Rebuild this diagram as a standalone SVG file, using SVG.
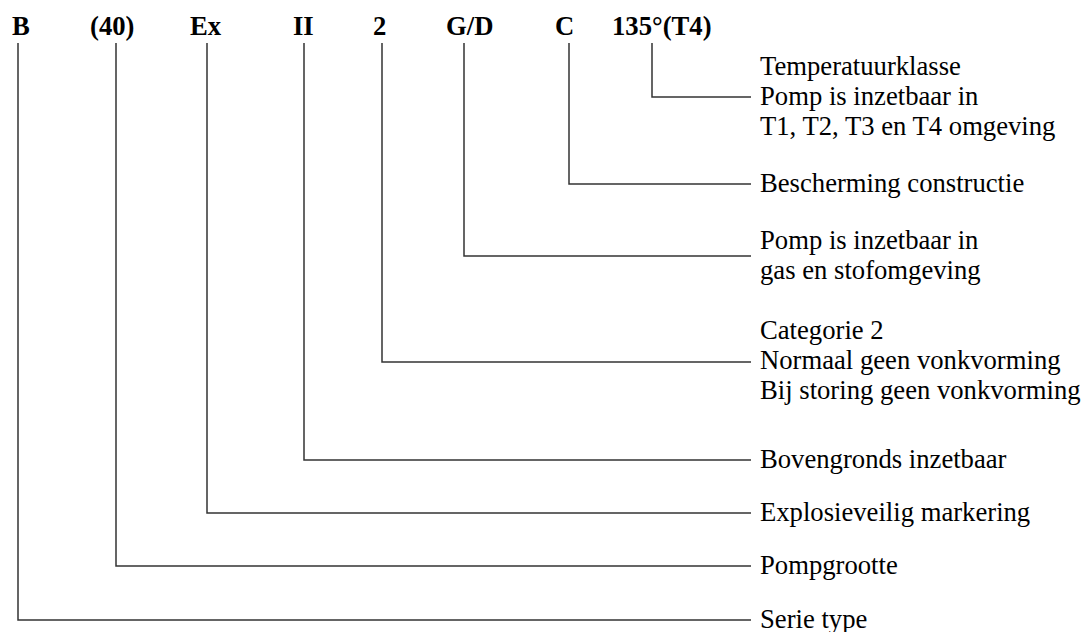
<svg xmlns="http://www.w3.org/2000/svg" width="1081" height="632" viewBox="0 0 1081 632">
<style>
.code{font-family:"Liberation Serif","Times New Roman",serif;font-weight:bold;font-size:26.67px;fill:#000}
.desc{font-family:"Liberation Serif","Times New Roman",serif;font-size:26.67px;fill:#000}
.conn{fill:none;stroke:#333;stroke-width:1.5}
</style>
<rect width="1081" height="632" fill="#fff"/>
<g id="codes">
<g id="code-B"><text class="code" x="12" y="35">B</text></g>
<g id="code-40"><text class="code" x="90" y="35">(40)</text></g>
<g id="code-Ex"><text class="code" x="190" y="35">Ex</text></g>
<g id="code-II"><text class="code" x="293" y="35">II</text></g>
<g id="code-2"><text class="code" x="373" y="35">2</text></g>
<g id="code-GD"><text class="code" x="446" y="35">G/D</text></g>
<g id="code-C"><text class="code" x="555" y="35">C</text></g>
<g id="code-T4"><text class="code" x="612" y="35">135°(T4)</text></g>
</g>
<g id="connectors">
<polyline class="conn" points="652,43 652,97 751,97"/>
<polyline class="conn" points="569,43 569,184 751,184"/>
<polyline class="conn" points="464,43 464,256 751,256"/>
<polyline class="conn" points="382,43 382,362 751,362"/>
<polyline class="conn" points="304,43 304,460 751,460"/>
<polyline class="conn" points="207,43 207,513 751,513"/>
<polyline class="conn" points="116,43 116,566 751,566"/>
<polyline class="conn" points="18,43 18,620 751,620"/>
</g>
<g id="desc-T4"><text class="desc" x="760" y="75">Temperatuurklasse</text><text class="desc" x="760" y="105">Pomp is inzetbaar in</text><text class="desc" x="760" y="135">T1, T2, T3 en T4 omgeving</text></g>
<g id="desc-C"><text class="desc" x="760" y="192">Bescherming constructie</text></g>
<g id="desc-GD"><text class="desc" x="760" y="249">Pomp is inzetbaar in</text><text class="desc" x="760" y="279">gas en stofomgeving</text></g>
<g id="desc-2"><text class="desc" x="760" y="339">Categorie 2</text><text class="desc" x="760" y="369">Normaal geen vonkvorming</text><text class="desc" x="760" y="399">Bij storing geen vonkvorming</text></g>
<g id="desc-II"><text class="desc" x="760" y="468">Bovengronds inzetbaar</text></g>
<g id="desc-Ex"><text class="desc" x="760" y="521">Explosieveilig markering</text></g>
<g id="desc-40"><text class="desc" x="760" y="574">Pompgrootte</text></g>
<g id="desc-B"><text class="desc" x="760" y="628">Serie type</text></g>
</svg>
